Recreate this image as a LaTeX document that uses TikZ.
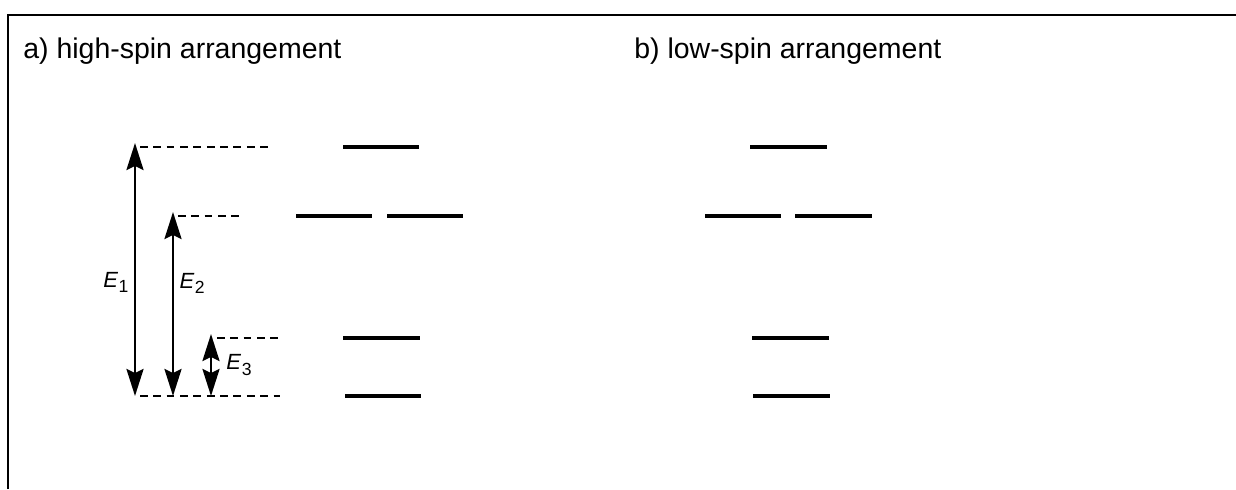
\documentclass[tikz,border=0pt]{standalone}
\usepackage{fontspec}
\setmainfont{Liberation Sans}
\usepackage{tikz}
\usetikzlibrary{arrows.meta, positioning}
\newcommand{\Elab}[1]{\textit{E}\kern0.3pt\raisebox{-0.45ex}{\fontsize{10}{10}\selectfont #1}}
\tikzset{
  frameline/.style={line width=1.4pt, black},
  level/.style={line width=2.2pt, black},
  guide/.style={line width=1.7pt, black, dash pattern=on 4.4pt off 3.2pt},
  gap/.style={{Stealth[length=0.54cm, width=0.34cm, inset=0.08cm]}-{Stealth[length=0.54cm, width=0.34cm, inset=0.08cm]}, line width=1.5pt, black},
  title/.style={font=\fontsize{16.2}{19}\selectfont, anchor=base west, inner sep=0pt},
  elabel/.style={font=\fontsize{12.5}{14}\selectfont, inner sep=0pt}
}

\begin{document}
\begin{tikzpicture}
  \useasboundingbox (0,0) rectangle (24.72,9.78);
  \draw[frameline] (0.16,0) -- (0.16,9.48) -- (24.72,9.48);

  \node[title] (ta) at (0.46,8.60) {a) high-spin arrangement};
  \node[title] (tb) at (12.68,8.60) {b) low-spin arrangement};

  % levels, high-spin
  \draw[level] (6.86,6.84) -- ++(1.52,0);
  \draw[level] (5.92,5.46) -- ++(1.52,0);
  \draw[level] (7.74,5.46) -- ++(1.52,0);
  \draw[level] (6.86,3.02) -- ++(1.54,0);
  \draw[level] (6.90,1.86) -- ++(1.52,0);

  % levels, low-spin
  \draw[level] (15.00,6.84) -- ++(1.54,0);
  \draw[level] (14.10,5.46) -- ++(1.52,0);
  \draw[level] (15.90,5.46) -- ++(1.54,0);
  \draw[level] (15.04,3.02) -- ++(1.54,0);
  \draw[level] (15.06,1.86) -- ++(1.54,0);

  % dashed guides
  \coordinate (g1) at (2.8,6.84);
  \coordinate (g2) at (3.56,5.46);
  \coordinate (g3) at (4.34,3.02);
  \coordinate (g0) at (2.8,1.86);
  \draw[guide] (g1) -- ++(2.6,0);
  \draw[guide] (g2) -- ++(1.3,0);
  \draw[guide] (g3) -- ++(1.26,0);
  \draw[guide] (g0) -- ++(2.8,0);

  % energy gaps
  \coordinate (e1t) at (2.70,6.92);
  \coordinate (e1b) at (2.70,1.86);
  \coordinate (e2t) at (3.46,5.54);
  \coordinate (e2b) at (3.46,1.86);
  \coordinate (e3t) at (4.22,3.10);
  \coordinate (e3b) at (4.22,1.86);
  \draw[gap] (e1b) -- node[elabel, pos=0.45, left=3pt] (l1) {\Elab{1}} (e1t);
  \draw[gap] (e2b) -- node[elabel, pos=0.61, right=3pt] (l2) {\Elab{2}} (e2t);
  \draw[gap] (e3b) -- node[elabel, pos=0.5, right=8pt] (l3) {\Elab{3}} (e3t);
\end{tikzpicture}
\end{document}
